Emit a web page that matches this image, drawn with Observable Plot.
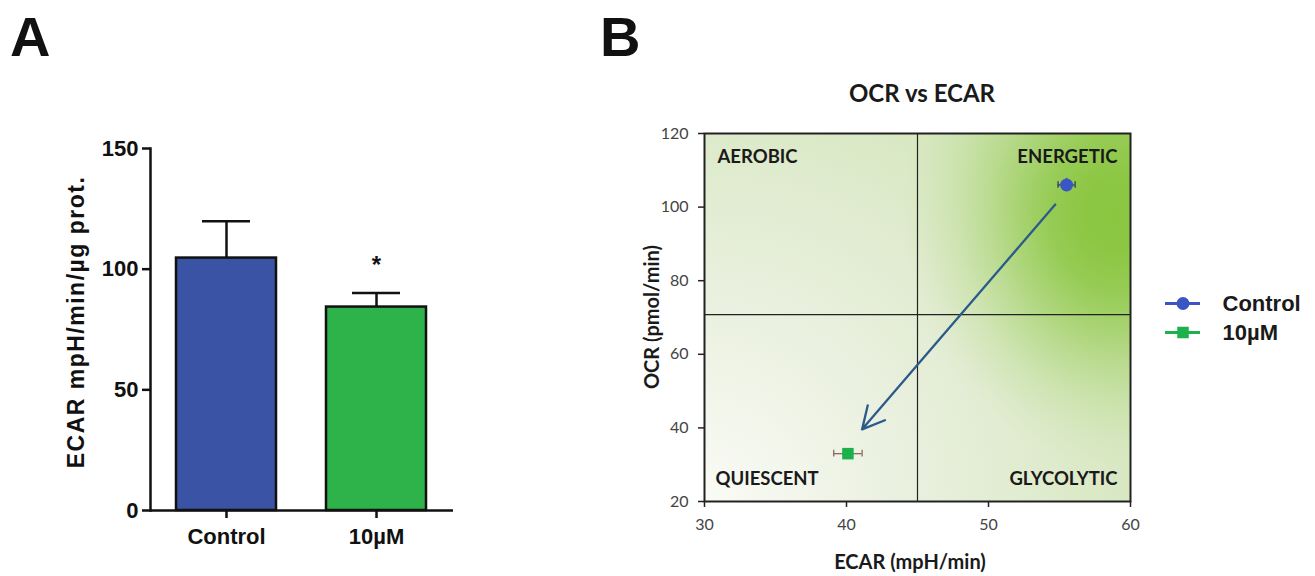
<!DOCTYPE html>
<html>
<head>
<meta charset="utf-8">
<script src="https://cdn.jsdelivr.net/npm/d3@7"></script>
<script src="https://cdn.jsdelivr.net/npm/@observablehq/plot@0.6"></script>
<style>
  html, body { margin: 0; padding: 0; background: #fff; }
  #root { position: relative; width: 1315px; height: 576px; overflow: hidden; background: #fff; }
  .abs { position: absolute; white-space: nowrap; }
  .panel { font-family: "Liberation Sans", Arial, sans-serif; font-weight: bold; color: #111; }
  .cal { font-family: Lato, "Open Sans", sans-serif; font-weight: bold; color: #1a1a1a; }
</style>
</head>
<body>
<div id="root"></div>
<script>
// ---------- Panel A data ----------
const catsA = ["Control", "10µM"];
const meanA = [104.6, 84.3];
const semA = [15.3, 5.8];
const colorsA = ["#3A53A4", "#2DB34A"];
const yTicksA = [0, 50, 100, 150];
const sigA = ["", "*"];

// ---------- Panel B data ----------
const groupsB = ["Control", "10µM"];
const ecarB = [55.5, 40.1];
const ecarErrB = [0.6, 1.0];
const ocrB = [106, 33];
const ocrErrB = [1.8, 0.6];
const colorsB = ["#3B55C2", "#1DB14B"];
const errColorsB = ["#2b3a70", "#8a6a66"];
const symbolsB = ["circle", "square"];
const quadECAR = [45];
const quadOCR = [70.8];
const arrowB = { x1: 54.7, y1: 100.7, x2: 41.1, y2: 39.6 };
const xTicksB = [30, 40, 50, 60];
const yTicksB = [20, 40, 60, 80, 100, 120];
const quadLabels = ["AEROBIC", "ENERGETIC", "QUIESCENT", "GLYCOLYTIC"];
// background glow: centre (ECAR, OCR) and radii in data units
const glowB = { cx: 59, cy: 98, rx: 15, ry: 68 };

const root = document.getElementById("root");
function addText(txt, cls, css) {
  const d = document.createElement("div");
  d.className = "abs " + cls;
  d.textContent = txt;
  Object.assign(d.style, css);
  root.appendChild(d);
  return d;
}
function place(el, left, top) {
  el.style.position = "absolute";
  el.style.left = left + "px";
  el.style.top = top + "px";
  root.appendChild(el);
}

// ---------- Panel A ----------
const dataA = catsA.map((c, i) => ({ cat: c, mean: meanA[i], sem: semA[i], color: colorsA[i], sig: sigA[i] }));
const plotA = Plot.plot({
  width: 460, height: 576,
  marginLeft: 150, marginRight: 7, marginTop: 148, marginBottom: 66,
  x: { domain: catsA, paddingInner: 0.33, paddingOuter: 0.17, label: null },
  y: { domain: [0, 150], label: null },
  style: { fontFamily: "'Liberation Sans', Arial, sans-serif", fontSize: "22px", fontWeight: "bold", color: "#111", background: "transparent" },
  marks: [
    Plot.ruleX(dataA, { x: "cat", y1: "mean", y2: d => d.mean + d.sem, stroke: "#111", strokeWidth: 2.5 }),
    Plot.tickY(dataA, { x: "cat", y: d => d.mean + d.sem, stroke: "#111", strokeWidth: 2.5, insetLeft: 26, insetRight: 26 }),
    Plot.barY(dataA, { x: "cat", y: "mean", fill: "color", stroke: "#111", strokeWidth: 2.5 }),
    Plot.text(dataA, { x: "cat", y: d => d.mean + d.sem, text: "sig", dy: -28, fontSize: 24, fill: "#111" }),
    Plot.frame({ anchor: "left", stroke: "#111", strokeWidth: 2.5 }),
    Plot.ruleY([0], { stroke: "#111", strokeWidth: 2.5 }),
    Plot.axisY({ ticks: yTicksA, tickSize: 8, tickPadding: 4, strokeWidth: 2.5, label: null, fill: "#111" }),
    Plot.axisX({ tickSize: 8, tickPadding: 10, strokeWidth: 2.5, label: null, fill: "#111" })
  ]
});
place(plotA, 0, 0);

addText("A", "panel", { left: "10px", top: "4px", fontSize: "56px" });
addText("ECAR mpH/min/µg prot.", "panel", {
  left: "76px", top: "322px", fontSize: "23px", letterSpacing: "1.5px",
  transform: "translate(-50%, -50%) rotate(-90deg)"
});

// ---------- Panel B ----------
const dataB = groupsB.map((g, i) => ({
  g, x: ecarB[i], y: ocrB[i], ex: ecarErrB[i], ey: ocrErrB[i],
  fill: colorsB[i], err: errColorsB[i], sym: symbolsB[i]
}));

// custom background mark, positioned through Plot's scales
function backgroundMark(index, scales) {
  const { x, y } = scales;
  const x0 = x(30), x1 = x(60), y0 = y(120), y1 = y(20);
  const g = d3.create("svg:g");
  const defs = g.append("defs");
  const base = defs.append("radialGradient").attr("id", "bgBase")
    .attr("gradientUnits", "userSpaceOnUse")
    .attr("cx", x0).attr("cy", y1).attr("r", Math.hypot(x1 - x0, y1 - y0) * 0.8);
  base.append("stop").attr("offset", 0).attr("stop-color", "#fafbf6");
  base.append("stop").attr("offset", 0.5).attr("stop-color", "#e8efdc");
  base.append("stop").attr("offset", 1).attr("stop-color", "#d6e7bf");
  const cx = x(glowB.cx), cy = y(glowB.cy);
  const rx = Math.abs(x(glowB.cx + glowB.rx) - cx), ry = Math.abs(y(glowB.cy - glowB.ry) - cy);
  const glow = defs.append("radialGradient").attr("id", "bgGlow")
    .attr("gradientUnits", "userSpaceOnUse")
    .attr("cx", cx).attr("cy", cy).attr("r", rx)
    .attr("gradientTransform", `translate(${cx},${cy}) scale(1,${ry / rx}) translate(${-cx},${-cy})`);
  [[0, 1], [0.15, 0.97], [0.3, 0.85], [0.45, 0.62], [0.6, 0.38], [0.75, 0.18], [0.9, 0.05], [1, 0]].forEach(([o, a]) =>
    glow.append("stop").attr("offset", o).attr("stop-color", "#8ac640").attr("stop-opacity", a));
  g.append("rect").attr("x", x0).attr("y", y0).attr("width", x1 - x0).attr("height", y1 - y0).attr("fill", "url(#bgBase)");
  g.append("rect").attr("x", x0).attr("y", y0).attr("width", x1 - x0).attr("height", y1 - y0).attr("fill", "url(#bgGlow)");
  return g.node();
}

const lab = { fontFamily: "Lato, 'Open Sans', sans-serif", fontSize: 18.5, fontWeight: "bold", fill: "#1a1a1a" };
const plotB = Plot.plot({
  width: 540, height: 466,
  marginLeft: 104, marginRight: 10, marginTop: 23, marginBottom: 75,
  x: { domain: [30, 60], label: null },
  y: { domain: [20, 120], label: null },
  style: { fontFamily: "Lato, 'Open Sans', sans-serif", fontSize: "16px", color: "#333", background: "transparent" },
  marks: [
    backgroundMark,
    Plot.ruleX(quadECAR, { stroke: "#222", strokeWidth: 1.2 }),
    Plot.ruleY(quadOCR, { stroke: "#222", strokeWidth: 1.2 }),
    Plot.text([quadLabels[0]], { ...lab, frameAnchor: "top-left", textAnchor: "start", dx: 13, dy: 16 }),
    Plot.text([quadLabels[1]], { ...lab, frameAnchor: "top-right", textAnchor: "end", dx: -13, dy: 16 }),
    Plot.text([quadLabels[2]], { ...lab, frameAnchor: "bottom-left", textAnchor: "start", dx: 11, dy: -17 }),
    Plot.text([quadLabels[3]], { ...lab, frameAnchor: "bottom-right", textAnchor: "end", dx: -13, dy: -17 }),
    Plot.arrow([arrowB], { x1: "x1", y1: "y1", x2: "x2", y2: "y2", stroke: "#2c5a8a", strokeWidth: 2.3, headLength: 16, headAngle: 55 }),
    Plot.ruleY(dataB, { y: "y", x1: d => d.x - d.ex, x2: d => d.x + d.ex, stroke: "err", strokeWidth: 1.3 }),
    Plot.ruleX(dataB, { x: "x", y1: d => d.y - d.ey, y2: d => d.y + d.ey, stroke: "err", strokeWidth: 1.3 }),
    Plot.ruleX(dataB, { x: d => d.x - d.ex, y1: d => d.y - 0.9, y2: d => d.y + 0.9, stroke: "err", strokeWidth: 1.3 }),
    Plot.ruleX(dataB, { x: d => d.x + d.ex, y1: d => d.y - 0.9, y2: d => d.y + 0.9, stroke: "err", strokeWidth: 1.3 }),
    Plot.dot(dataB, { x: "x", y: "y", fill: "fill", symbol: "sym", r: 6.5, stroke: "none" }),
    Plot.frame({ stroke: "#222", strokeWidth: 2 }),
    Plot.axisX({ ticks: xTicksB, tickSize: 6, tickPadding: 11, label: null, fill: "#444", stroke: "#222", strokeWidth: 1.5 }),
    Plot.axisY({ ticks: yTicksB, tickSize: 6, tickPadding: 10, label: null, fill: "#444", stroke: "#222", strokeWidth: 1.5 })
  ]
});
place(plotB, 600, 110);

addText("B", "panel", { left: "600px", top: "4px", fontSize: "56px" });
addText("OCR vs ECAR", "cal", { left: "922px", top: "92px", fontSize: "24px", transform: "translate(-50%, -50%)" });
addText("OCR (pmol/min)", "cal", { left: "651px", top: "317px", fontSize: "20px", transform: "translate(-50%, -50%) rotate(-90deg)" });
addText("ECAR (mpH/min)", "cal", { left: "910px", top: "561px", fontSize: "20px", transform: "translate(-50%, -50%)" });

// ---------- Legend ----------
const legendData = groupsB.map((g, i) => ({ g, fill: colorsB[i], sym: symbolsB[i] }));
const legend = Plot.plot({
  width: 160, height: 70, margin: 0,
  x: { domain: [0, 1], range: [10, 45], axis: null },
  y: { type: "point", domain: groupsB, range: [18, 47], padding: 0, axis: null },
  style: { background: "transparent" },
  marks: [
    Plot.ruleY(legendData, { y: "g", x1: 0, x2: 1, stroke: "fill", strokeWidth: 3 }),
    Plot.dot(legendData, { x: 0.5, y: "g", fill: "fill", symbol: "sym", r: 6.5 }),
    Plot.text(legendData, { x: 1, y: "g", text: "g", dx: 22, textAnchor: "start", fontFamily: "'Liberation Sans', Arial, sans-serif", fontWeight: "bold", fontSize: 22, fill: "#1a1a1a" })
  ]
});
place(legend, 1155, 285);
</script>
</body>
</html>
